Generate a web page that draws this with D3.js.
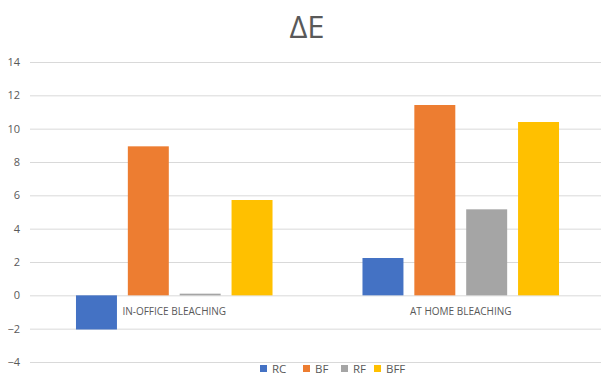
<!DOCTYPE html>
<html>
<head>
<meta charset="utf-8">
<script src="https://cdn.jsdelivr.net/npm/d3@7"></script>
<style>
  body { margin: 0; background: #fff; }
  text { font-family: "Open Sans", "Liberation Sans", sans-serif; fill: #595959; }
</style>
</head>
<body>
<script>
// chart data
const categories = ['IN-OFFICE BLEACHING', 'AT HOME BLEACHING'];
const seriesNames = ['RC', 'BF', 'RF', 'BFF'];
const seriesColors = ['#4472C4', '#ED7D31', '#A5A5A5', '#FFC000'];
const rcValues = [-2.05, 2.24];
const bfValues = [8.94, 11.42];
const rfValues = [0.1, 5.16];
const bffValues = [5.72, 10.4];
const yTicks = [-4, -2, 0, 2, 4, 6, 8, 10, 12, 14];

const seriesValues = [rcValues, bfValues, rfValues, bffValues];

const width = 601;
const height = 376;

const svg = d3.select('body')
  .append('svg')
  .attr('width', width)
  .attr('height', height);

// scales
const x0 = d3.scaleBand()
  .domain(categories)
  .range([31, 604])
  .padding(0);

const bw = x0.bandwidth();
const x1 = d3.scaleBand()
  .domain(seriesNames)
  .range([bw * 0.157, bw * 0.843])
  .paddingInner(0.21);

const y = d3.scaleLinear()
  .domain([-4, 14])
  .range([362, 62]);

// gridlines + y labels
const yAxis = d3.axisLeft(y)
  .tickValues(yTicks)
  .tickSize(-(width - 30))
  .tickPadding(10)
  .tickFormat(d3.format('d'));

svg.append('g')
  .attr('transform', 'translate(30, 0)')
  .call(yAxis)
  .call(g => g.select('.domain').remove())
  .call(g => g.selectAll('.tick line').attr('stroke', '#D9D9D9').attr('stroke-width', 1))
  .call(g => g.selectAll('.tick text').attr('font-size', 11).attr('fill', '#595959')
    .style('font-family', '"Open Sans", "Liberation Sans", sans-serif'));

// bars
const groups = svg.append('g')
  .selectAll('g')
  .data(categories)
  .join('g')
  .attr('transform', d => `translate(${x0(d)}, 0)`);

groups.selectAll('rect')
  .data((d, ci) => seriesNames.map((s, si) => ({ s, v: seriesValues[si][ci], c: seriesColors[si] })))
  .join('rect')
  .attr('x', d => x1(d.s))
  .attr('width', x1.bandwidth())
  .attr('y', d => y(Math.max(0, d.v)))
  .attr('height', d => Math.abs(y(d.v) - y(0)))
  .attr('fill', d => d.c);

// category labels
svg.append('g')
  .selectAll('text')
  .data(categories)
  .join('text')
  .attr('x', d => x0(d) + bw / 2)
  .attr('y', 315)
  .attr('text-anchor', 'middle')
  .attr('font-size', 10)
  .text(d => d);

// title
svg.append('text')
  .attr('x', 307)
  .attr('y', 38)
  .attr('text-anchor', 'middle')
  .attr('font-size', 31)
  .text('ΔE');

// legend
const legendX = [260, 303, 341, 374];
const legend = svg.append('g')
  .selectAll('g')
  .data(seriesNames)
  .join('g')
  .attr('transform', (d, i) => `translate(${legendX[i]}, 365)`);

legend.append('rect')
  .attr('width', 7)
  .attr('height', 7)
  .attr('fill', (d, i) => seriesColors[i]);

legend.append('text')
  .attr('x', 12)
  .attr('y', 7.5)
  .attr('font-size', 11.5)
  .text(d => d);
</script>
</body>
</html>
